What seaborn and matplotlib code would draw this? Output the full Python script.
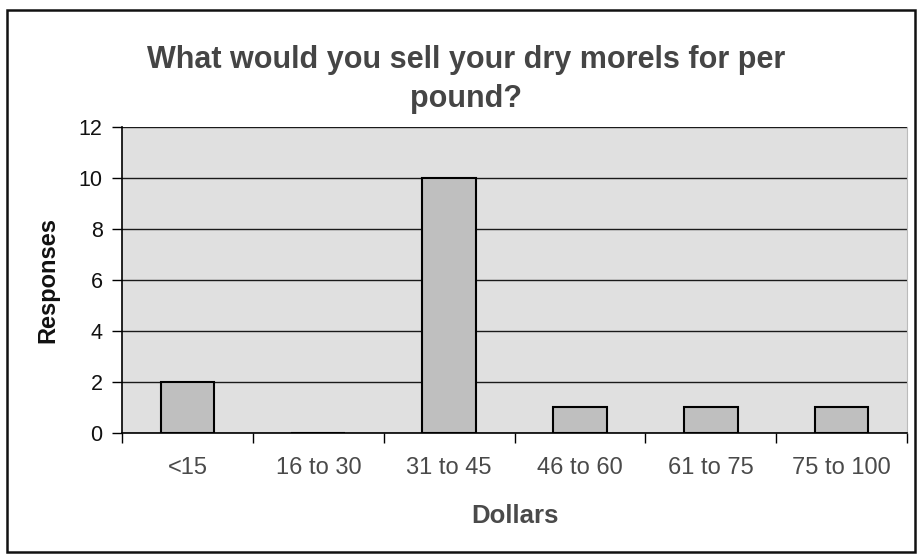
import matplotlib
matplotlib.use('Agg')
import matplotlib.pyplot as plt
from matplotlib.patches import Rectangle
import seaborn as sns

# values
price_ranges = ['<15', '16 to 30', '31 to 45', '46 to 60', '61 to 75', '75 to 100']
responses = [2, 0, 10, 1, 1, 1]
y_ticks = [0, 2, 4, 6, 8, 10, 12]

sns.set_style('white')
plt.rcParams['font.family'] = ['Liberation Sans', 'DejaVu Sans']

fig = plt.figure(figsize=(9.18, 5.55), dpi=100)
ax = fig.add_axes([0.133, 0.22, 0.855, 0.551])

# light grey plot area with black horizontal gridlines
ax.set_facecolor('#e0e0e0')
ax.set_axisbelow(True)
ax.yaxis.grid(True, color='#1a1a1a', linewidth=1.0)

sns.barplot(x=price_ranges, y=responses, color='#bfbfbf', saturation=1,
            edgecolor='black', linewidth=1.5, width=0.41, ax=ax)

ax.set_ylim(0, 12)
ax.set_xlim(-0.5, len(price_ranges) - 0.5)
ax.set_yticks(y_ticks)

# tick marks sit on the category boundaries, labels in the middle
ax.set_xticks([i - 0.5 for i in range(len(price_ranges) + 1)], minor=True)
ax.tick_params(axis='x', which='major', length=0, pad=17, labelsize=17, labelcolor='#4a4a4a')
ax.tick_params(axis='x', which='minor', length=7, width=1, color='black', direction='out', bottom=True)
ax.tick_params(axis='y', which='major', length=7, width=1, color='black', direction='out',
               left=True, pad=7, labelsize=15.5, labelcolor='#111111')

for side in ['left', 'bottom']:
    ax.spines[side].set_color('black')
    ax.spines[side].set_linewidth(1.2)
ax.spines['top'].set_visible(False)
ax.spines['right'].set_color('#bbbbbb')
ax.spines['right'].set_linewidth(0.8)

ax.set_xlabel('Dollars', fontsize=18.5, fontweight='bold', color='#4a4a4a', labelpad=18)
ax.set_ylabel('Responses', fontsize=17, fontweight='bold', color='#111111', labelpad=14)

fig.text(0.508, 0.857, 'What would you sell your dry morels for per\npound?',
         ha='center', va='center', multialignment='center', fontsize=22,
         fontweight='bold', color='#454545', linespacing=1.36)

# outer chart frame
fig.patches.append(Rectangle((7 / 918, 3 / 555), 908 / 918, 542 / 555,
                             transform=fig.transFigure, fill=False,
                             edgecolor='#111111', linewidth=1.8))

fig.savefig('out.png', dpi=100)
